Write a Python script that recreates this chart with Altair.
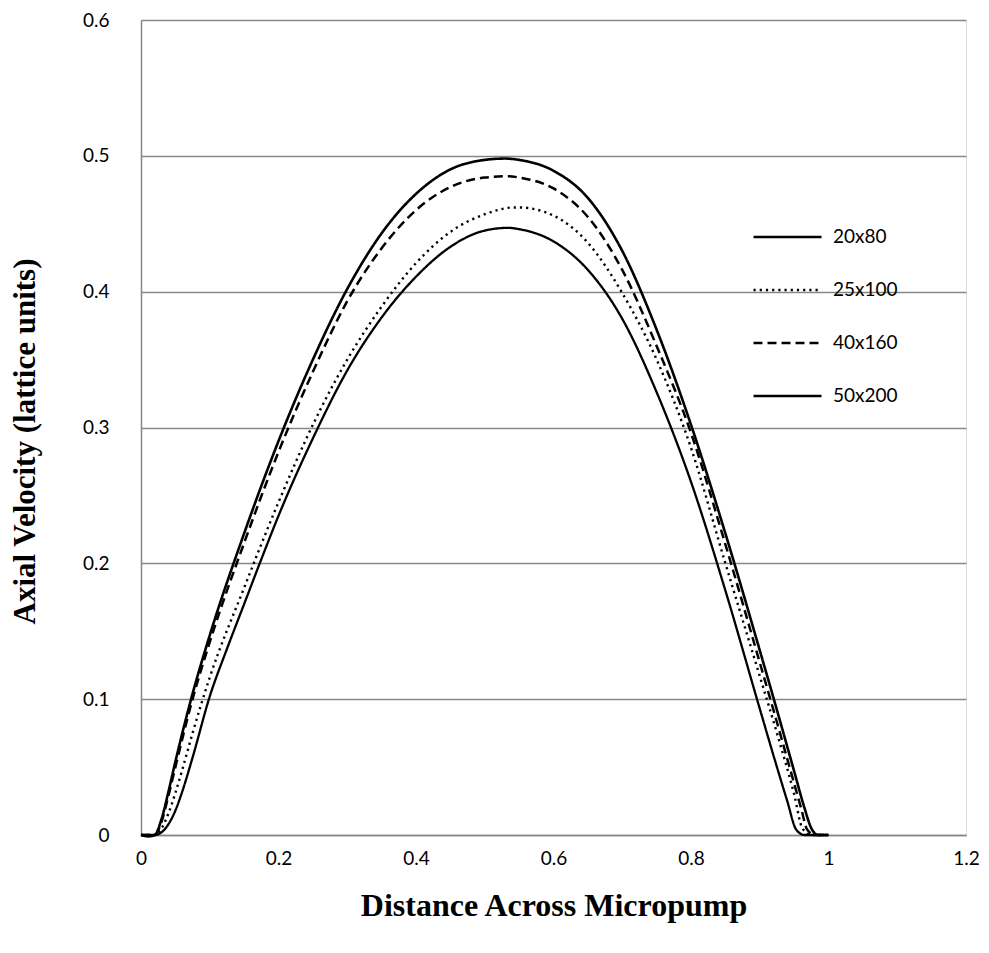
import altair as alt
import pandas as pd

series_names = ["20x80", "25x100", "40x160", "50x200"]

x_20x80 = [0.0, 0.02, 0.03, 0.04, 0.05, 0.06, 0.075, 0.1, 0.125, 0.15, 0.175, 0.2, 0.25, 0.3, 0.35, 0.4, 0.45, 0.5, 0.534, 0.55, 0.6, 0.65, 0.7, 0.75, 0.8, 0.85, 0.9, 0.925, 0.94, 0.953, 0.965, 1.0]
y_20x80 = [0.0, 0.0, 0.002, 0.008, 0.018, 0.032, 0.057, 0.102, 0.137, 0.17, 0.203, 0.235, 0.292, 0.342, 0.381, 0.411, 0.433, 0.445, 0.447, 0.446, 0.437, 0.416, 0.38, 0.326, 0.26, 0.18, 0.093, 0.05, 0.025, 0.004, 0.0, 0.0]

x_25x100 = [0.0, 0.02, 0.03, 0.04, 0.05, 0.06, 0.075, 0.1, 0.15, 0.2, 0.25, 0.3, 0.35, 0.4, 0.45, 0.5, 0.543, 0.55, 0.6, 0.65, 0.7, 0.75, 0.8, 0.85, 0.9, 0.925, 0.95, 0.962, 0.975, 1.0]
y_25x100 = [0.0, 0.0, 0.005, 0.016, 0.031, 0.048, 0.075, 0.116, 0.182, 0.245, 0.302, 0.35, 0.389, 0.421, 0.444, 0.457, 0.462, 0.462, 0.456, 0.436, 0.399, 0.35, 0.285, 0.2, 0.117, 0.075, 0.03, 0.005, 0.0, 0.0]

x_40x160 = [0.0, 0.02, 0.03, 0.04, 0.05, 0.075, 0.1, 0.15, 0.2, 0.25, 0.3, 0.35, 0.4, 0.45, 0.5, 0.535, 0.55, 0.6, 0.65, 0.7, 0.75, 0.8, 0.85, 0.9, 0.925, 0.95, 0.96, 0.969, 0.98, 1.0]
y_40x160 = [0.0, 0.0, 0.01, 0.029, 0.05, 0.1, 0.142, 0.215, 0.282, 0.341, 0.393, 0.432, 0.46, 0.477, 0.484, 0.485, 0.484, 0.476, 0.455, 0.416, 0.36, 0.296, 0.214, 0.127, 0.083, 0.038, 0.02, 0.004, 0.0, 0.0]

x_50x200 = [0.0, 0.01, 0.02, 0.03, 0.04, 0.05, 0.075, 0.1, 0.15, 0.2, 0.25, 0.3, 0.35, 0.4, 0.45, 0.5, 0.53, 0.55, 0.6, 0.65, 0.7, 0.75, 0.8, 0.85, 0.9, 0.925, 0.95, 0.965, 0.975, 0.985, 1.0]
y_50x200 = [0.0, -0.001, 0.0, 0.012, 0.032, 0.054, 0.104, 0.147, 0.222, 0.29, 0.35, 0.402, 0.443, 0.472, 0.49, 0.497, 0.498, 0.497, 0.489, 0.469, 0.43, 0.372, 0.302, 0.222, 0.136, 0.092, 0.047, 0.02, 0.005, 0.0, 0.0]

x_ticks = [0, 0.2, 0.4, 0.6, 0.8, 1, 1.2]
y_ticks = [0, 0.1, 0.2, 0.3, 0.4, 0.5, 0.6]

rows = []
for name, xs, ys in [("20x80", x_20x80, y_20x80), ("25x100", x_25x100, y_25x100),
                     ("40x160", x_40x160, y_40x160), ("50x200", x_50x200, y_50x200)]:
    for i, (a, b) in enumerate(zip(xs, ys)):
        rows.append({"series": name, "x": a, "y": b, "order": i})
df = pd.DataFrame(rows)

legend = alt.Legend(
    title=None, orient="none", legendX=611, legendY=207,
    symbolType="stroke", symbolSize=4624, clipHeight=20, rowPadding=33,
    labelFont="Lato", labelFontSize=19, labelColor="#000000", labelOffset=10,
    padding=0, symbolStrokeColor="#000000",
)

chart = alt.Chart(df).mark_line(interpolate="monotone", strokeCap="butt").encode(
    x=alt.X("x:Q", scale=alt.Scale(domain=[0, 1.2], nice=False),
            axis=alt.Axis(values=x_ticks, format=".1~f", title="Distance Across Micropump", grid=False,
                          ticks=False, domainColor="#878787", domainWidth=1.5,
                          labelFont="Lato", labelFontSize=19, labelColor="#000000",
                          labelPadding=14, titleFont="Liberation Serif", titleFontSize=32,
                          titleFontWeight="bold", titleColor="#000000",
                          titleY=70, titleBaseline="middle", labelFlush=False)),
    y=alt.Y("y:Q", scale=alt.Scale(domain=[0, 0.6], nice=False),
            axis=alt.Axis(values=y_ticks, format=".1~f", title="Axial Velocity (lattice units)", grid=True,
                          gridColor="#878787", gridWidth=1.3, ticks=False,
                          domainColor="#878787", domainWidth=1.5,
                          labelFont="Lato", labelFontSize=19, labelColor="#000000",
                          labelPadding=32, titleFont="Liberation Serif", titleFontSize=31,
                          titleFontWeight="bold", titleColor="#000000",
                          titleX=-116, titleY=421, titleBaseline="middle", titleAngle=-90,
                          labelFlush=False)),
    color=alt.Color("series:N", scale=alt.Scale(domain=series_names,
                    range=["#000000", "#000000", "#000000", "#000000"]), legend=legend),
    strokeDash=alt.StrokeDash("series:N", scale=alt.Scale(domain=series_names,
                    range=[[1, 0], [2.2, 4], [9, 5], [1, 0]]), legend=legend),
    strokeWidth=alt.StrokeWidth("series:N", scale=alt.Scale(domain=series_names,
                    range=[2.3, 2.6, 3.0, 3.4]), legend=legend),
    order="order:Q",
).properties(
    width=825, height=815,
    autosize=alt.AutoSizeParams(type="none"),
    padding={"left": 141, "top": 20, "right": 23, "bottom": 118},
).configure_view(stroke=None).configure(background="#ffffff")

chart.save("out.html", embed_options={"renderer": "svg", "actions": False})
